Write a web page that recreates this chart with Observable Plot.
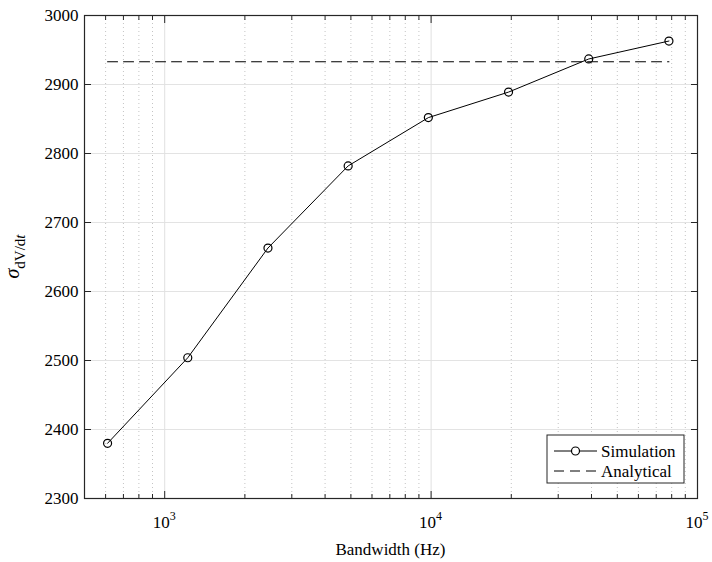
<!DOCTYPE html>
<html>
<head>
<meta charset="utf-8">
<script src="https://cdn.jsdelivr.net/npm/d3@7"></script>
<script src="https://cdn.jsdelivr.net/npm/@observablehq/plot@0.6"></script>
<style>
  html, body { margin: 0; padding: 0; background: white; }
  svg, svg text, svg tspan { font-family: "Liberation Serif", "DejaVu Serif", serif !important; }
</style>
</head>
<body>
<div id="chart"></div>
<script>
// ---- data ----
const bandwidth = [610.35, 1220.7, 2441.4, 4882.8, 9765.6, 19531, 39063, 78125];
const simulation = [2380, 2504, 2663, 2782, 2852, 2889, 2937, 2963];
const analyticalValue = 2933;
const yTicks = [2300, 2400, 2500, 2600, 2700, 2800, 2900, 3000];
const xMajorTicks = [1e3, 1e4, 1e5];
const xTickExponents = ["3", "4", "5"];
const xMinorTicks = [600, 700, 800, 900, 2000, 3000, 4000, 5000, 6000, 7000, 8000, 9000,
  20000, 30000, 40000, 50000, 60000, 70000, 80000, 90000];
const seriesNames = ["Simulation", "Analytical"];
const xLabel = "Bandwidth (Hz)";

const simData = bandwidth.map((b, i) => ({x: b, y: simulation[i]}));
const anaData = [{x: bandwidth[0], y: analyticalValue}, {x: bandwidth[bandwidth.length - 1], y: analyticalValue}];

const font = "Liberation Serif";
const fs = 17;

const chart = Plot.plot({
  width: 712,
  height: 562,
  marginLeft: 84,
  marginRight: 15,
  marginTop: 15,
  marginBottom: 64,
  style: {fontFamily: "Liberation Serif, serif", fontSize: fs + "px", background: "white", color: "black"},
  x: {type: "log", domain: [500, 1e5]},
  y: {domain: [2300, 3000]},
  marks: [
    Plot.gridY(yTicks, {stroke: "#e3e3e3", strokeOpacity: 1}),
    Plot.gridX(xMinorTicks, {stroke: "#c4c4c4", strokeOpacity: 1, strokeDasharray: "1,3"}),
    Plot.gridX(xMajorTicks.slice(0, 2), {stroke: "#e0e0e0", strokeOpacity: 1}),
    // inward ticks
    Plot.axisX(xMinorTicks, {anchor: "bottom", tickSize: -4, tickFormat: () => "", label: null, stroke: "#262626"}),
    Plot.axisX(xMinorTicks, {anchor: "top", tickSize: -4, tickFormat: () => "", label: null, stroke: "#262626"}),
    Plot.axisX(xMajorTicks, {anchor: "bottom", tickSize: -7, tickFormat: () => "", label: null, stroke: "#262626"}),
    Plot.axisX(xMajorTicks, {anchor: "top", tickSize: -7, tickFormat: () => "", label: null, stroke: "#262626"}),
    Plot.axisY(yTicks, {anchor: "left", tickSize: -7, tickFormat: () => "", label: null, stroke: "#262626"}),
    Plot.axisY(yTicks, {anchor: "right", tickSize: -7, tickFormat: () => "", label: null, stroke: "#262626"}),
    // y tick labels
    Plot.axisY(yTicks, {anchor: "left", tickSize: 0, tickPadding: 6, tickFormat: d => String(d), label: null, fontSize: fs, fontFamily: font}),
    Plot.frame({stroke: "#262626", strokeWidth: 1.2}),
    // data
    Plot.line(anaData, {x: "x", y: "y", stroke: "black", strokeWidth: 1.1, strokeDasharray: "10,6"}),
    Plot.line(simData, {x: "x", y: "y", stroke: "black", strokeWidth: 1}),
    Plot.dot(simData, {x: "x", y: "y", r: 4, stroke: "black", strokeWidth: 1.2, fill: "none"})
  ]
});

document.getElementById("chart").appendChild(chart);

const svg = d3.select(chart);
const xs = chart.scale("x");
const plotLeft = 84, plotRight = 712 - 15, plotTop = 15, plotBottom = 562 - 64;

// x tick labels with superscripts, positioned through Plot's x scale
xMajorTicks.forEach((t, i) => {
  const tx = svg.append("text")
    .attr("x", xs.apply(t))
    .attr("y", 528)
    .attr("text-anchor", "middle")
    .attr("font-family", font)
    .attr("font-size", fs)
    .attr("fill", "black");
  tx.append("tspan").text("10");
  tx.append("tspan").attr("font-size", 12).attr("dy", -8).text(xTickExponents[i]);
});

// x label
svg.append("text")
  .attr("x", (plotLeft + plotRight) / 2)
  .attr("y", 555)
  .attr("text-anchor", "middle")
  .attr("font-family", font)
  .attr("font-size", fs)
  .attr("fill", "black")
  .text(xLabel);

// y label
const yl = svg.append("text")
  .attr("transform", `translate(19,${(plotTop + plotBottom) / 2}) rotate(-90)`)
  .attr("text-anchor", "middle")
  .attr("font-family", font)
  .attr("fill", "black");
yl.append("tspan").attr("font-style", "italic").attr("font-size", 20).text("σ");
const sub = yl.append("tspan").attr("font-size", 15).attr("dy", 6);
sub.append("tspan").text("dV/d");
sub.append("tspan").attr("font-style", "italic").text("t");

// legend
const lg = svg.append("g").attr("font-family", font).attr("font-size", fs).attr("text-anchor", "start");
lg.append("rect").attr("x", 547).attr("y", 435).attr("width", 137).attr("height", 48)
  .attr("fill", "white").attr("stroke", "#262626").attr("stroke-width", 1);
const rowsY = [451, 471];
lg.append("line").attr("x1", 554).attr("x2", 597).attr("y1", rowsY[0]).attr("y2", rowsY[0]).attr("stroke", "black");
lg.append("circle").attr("cx", 575.5).attr("cy", rowsY[0]).attr("r", 4).attr("fill", "white").attr("stroke", "black").attr("stroke-width", 1.2);
lg.append("line").attr("x1", 554).attr("x2", 597).attr("y1", rowsY[1]).attr("y2", rowsY[1]).attr("stroke", "black").attr("stroke-dasharray", "10,6");
seriesNames.forEach((n, i) => {
  lg.append("text").attr("x", 601).attr("y", rowsY[i]).attr("dy", "0.35em").attr("fill", "black").attr("text-anchor", "start").text(n);
});
</script>
</body>
</html>
